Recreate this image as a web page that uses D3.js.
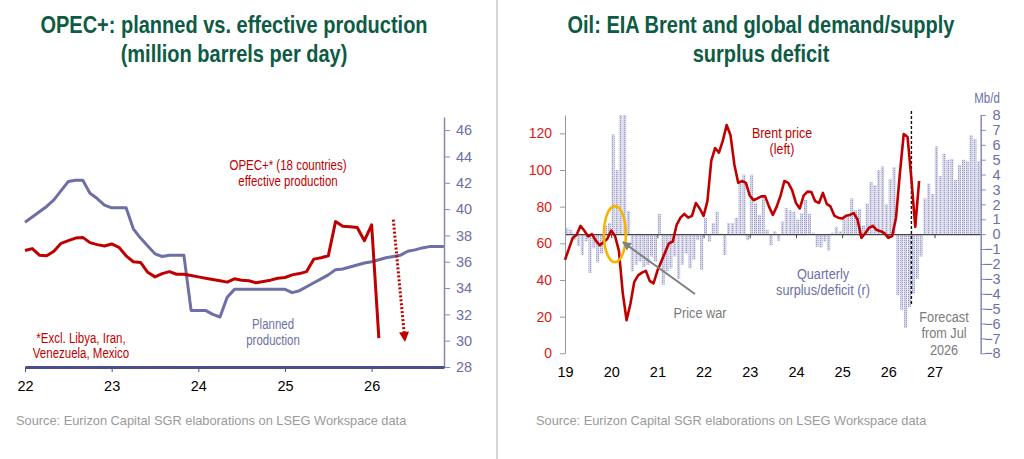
<!DOCTYPE html>
<html>
<head>
<meta charset="utf-8">
<script src="https://cdn.jsdelivr.net/npm/d3@7"></script>
<style>
  body { margin: 0; background: #fff; }
  svg { display: block; font-family: "Liberation Sans", Arial, sans-serif; }
</style>
</head>
<body>
<svg id="chart" width="1024" height="459"></svg>
<script>
// ---- data: OPEC+ (million b/d), monthly from Jan 2022 ----
const opecStart = 2022;
const planned = [
  39.0, 39.4, 39.8, 40.2, 40.7, 41.4, 42.1, 42.2, 42.2, 41.2, 40.8, 40.3,
  40.1, 40.1, 40.1, 38.5, 37.8, 37.2, 36.6, 36.4, 36.5, 36.5, 36.5, 32.3,
  32.3, 32.3, 32.0, 31.8, 33.3, 33.9, 33.9, 33.9, 33.9, 33.9, 33.9, 33.9,
  33.9, 33.65, 33.8, 34.1, 34.4, 34.7, 35.0, 35.4, 35.45, 35.6, 35.75, 35.9,
  36.0, 36.15, 36.3, 36.4, 36.5, 36.8, 36.9, 37.05, 37.15, 37.15, 37.15
];
const effective = [
  36.85, 37.0, 36.5, 36.45, 36.8, 37.4, 37.6, 37.8, 37.85, 37.45, 37.3, 37.2,
  37.35, 37.1, 36.45, 36.0, 35.95, 35.2, 34.85, 35.1, 35.25, 35.05, 35.05, 34.95,
  34.85, 34.75, 34.65, 34.55, 34.45, 34.7, 34.6, 34.55, 34.4, 34.5, 34.6, 34.75,
  34.8, 35.0, 35.1, 35.25, 36.2, 36.3, 36.45, 39.05, 38.7, 38.65, 38.6, 37.6,
  38.8, 30.2
];
const opecYears = [2022, 2023, 2024, 2025, 2026];
const opecTicks = [28, 30, 32, 34, 36, 38, 40, 42, 44, 46];
// expected path of effective production: [year, value] start / end
const opecArrow = [[2026.25, 39.2], [2026.385, 29.9]];

// ---- data: Brent ($/bbl) monthly from Jan 2019, balance (mb/d) monthly Jan 2019 - Dec 2027 ----
const oilStart = 2019;
const brent = [
  51, 57, 63, 64.5, 69.5, 67, 63.8, 65, 61.5, 59, 60.5, 62.5,
  67, 64, 56, 33, 18, 27, 39, 42.5, 44, 45, 39.5, 38.2,
  45, 50, 55, 60, 61, 70, 74, 76, 74, 75, 82, 79,
  75, 83, 105, 112, 109.5, 116, 124.5, 119, 103, 93, 94, 93,
  86, 83.5, 84.5, 85.6, 85.6, 80, 75.5, 80, 86, 94, 93, 89,
  82, 79, 86, 88.2, 88, 83, 82, 87.5, 81.5, 80, 75, 74,
  73.5, 75, 75.5, 76.5, 73, 63, 65.5, 68.5, 69.5, 67.2, 66.6, 65.5,
  63, 64, 74, 98, 119.6, 118, 95, 69, 94
];
const balance = [
  0.4, 0.3, -0.4, -0.8, -1.4, -0.5, -2.6, -0.95, -1.9, -1.3, 0.6, 0.75,
  6.7, 4.3, 11, 10, 1.55, -2.5, -2.05, -1.85, -2.2, -2.05, -1.5, -1.85,
  1.35, -3.4, -2.5, -2.3, -1.5, -3.0, -2.05, -1.3, -2.3, -1.7, -0.4, -2.4,
  1.1, -0.5, 0.75, 1.5, 0.05, -1.4, 0.75, 0.75, 1.1, 3.4, 4.0, -0.4,
  4.0, 2.1, 1.3, 2.4, 0.3, -0.75, 0.2, -0.45, 0.85, 1.75, 1.6, 1.5,
  1.0, 1.4, 2.3, 1.35, 0.1, -0.85, -0.9, -0.5, -1.1, 0.1, 0.5, 0.2,
  1.05, 1.2, 2.4, 1.6, 1.7, 0.6, 2.05, 3.5, 3.3, 4.3, 4.55, 2.0,
  3.7, 4.5, -4.1, -5.1, -6.3, -4.9, -4.0, -3.0, -1.5, 2.4, 3.4, 2.7,
  5.9, 3.9, 5.4, 5.0, 5.05, 3.65, 4.65, 5.0, 4.9, 6.65, 6.4, 4.9
];
const oilYears = [2019, 2020, 2021, 2022, 2023, 2024, 2025, 2026, 2027];
const priceTicks = [0, 20, 40, 60, 80, 100, 120];
const balanceTicks = [-8, -7, -6, -5, -4, -3, -2, -1, 0, 1, 2, 3, 4, 5, 6, 7, 8];
const forecastFrom = 2026.5;
const priceWar = [2020.08, 65];

const GREEN = '#0d5b45', RED = '#c00000', BLUE = '#6d6fa6', AXBLUE = '#8587bb';
const svg = d3.select('#chart');
const monthT = (start, i) => start + i / 12;
const yy = d => String(d).slice(2);

// text helper; "narrow" squeezes Liberation Sans to look like Arial Narrow
function addText(g, x, y, lines, opts = {}) {
  const sx = opts.narrow ? 0.82 : 1;
  const t = g.append('text')
    .attr('transform', `translate(${x},${y}) scale(${sx},1)`)
    .attr('text-anchor', opts.anchor || 'middle')
    .attr('fill', opts.fill || '#000')
    .attr('font-size', opts.size || 15)
    .attr('font-weight', opts.weight || 'normal');
  lines.forEach((s, i) => t.append('tspan').attr('x', 0).attr('dy', i ? (opts.lh || 16) : 0).text(s));
  return t;
}

function styleAxis(g, color, textColor, size) {
  g.select('.domain').attr('stroke', color);
  g.selectAll('.tick line').attr('stroke', color);
  g.selectAll('.tick text').attr('fill', textColor).attr('font-size', size)
    .attr('font-family', '"Liberation Sans", Arial, sans-serif');
}

// divider
svg.append('line').attr('x1', 497).attr('x2', 497).attr('y1', 0).attr('y2', 459)
  .attr('stroke', '#c8c8c8').attr('stroke-width', 1.5);

// ================= left panel =================
const left = svg.append('g');
const xL = d3.scaleLinear().domain([2022, 2026.835]).range([25, 444]);
const yL = d3.scaleLinear().domain([28, 47]).range([367, 117]);

addText(left, 234, 33, ['OPEC+: planned vs. effective production', '(million barrels per day)'],
  { fill: GREEN, size: 24.4, weight: 'bold', narrow: true, lh: 29 });

const gyL = left.append('g').attr('transform', `translate(${xL.range()[1]},0)`)
  .call(d3.axisRight(yL).tickValues(opecTicks).tickSize(6).tickPadding(6).tickSizeOuter(0));
styleAxis(gyL, AXBLUE, BLUE, 14.5);
gyL.select('.domain').attr('stroke-width', 1.5);

const gxL = left.append('g').attr('transform', `translate(0,${yL(28)})`)
  .call(d3.axisBottom(xL).tickValues(opecYears).tickFormat(yy).tickSize(5).tickPadding(9).tickSizeOuter(0));
styleAxis(gxL, '#4b4e8c', '#000', 14.5);
gxL.select('.domain').attr('stroke-width', 3);

const lineL = d3.line().x((d, i) => xL(monthT(opecStart, i))).y(d => yL(d));
left.append('path').datum(planned).attr('d', lineL)
  .attr('fill', 'none').attr('stroke', BLUE).attr('stroke-width', 3).attr('stroke-linejoin', 'round');
left.append('path').datum(effective).attr('d', lineL)
  .attr('fill', 'none').attr('stroke', RED).attr('stroke-width', 3).attr('stroke-linejoin', 'round');

// dotted arrow
{
  const [a, b] = opecArrow.map(([t, v]) => [xL(t), yL(v)]);
  const ang = Math.atan2(b[1] - a[1], b[0] - a[0]);
  const head = 10, hw = 5;
  const base = [b[0] - head * Math.cos(ang), b[1] - head * Math.sin(ang)];
  left.append('line').attr('x1', a[0]).attr('y1', a[1]).attr('x2', base[0]).attr('y2', base[1])
    .attr('stroke', RED).attr('stroke-width', 3).attr('stroke-dasharray', '2,2');
  const px = -Math.sin(ang), py = Math.cos(ang);
  left.append('polygon').attr('fill', RED)
    .attr('points', [b, [base[0] + px * hw, base[1] + py * hw], [base[0] - px * hw, base[1] - py * hw]].join(' '));
}

addText(left, 288, 170, ['OPEC+* (18 countries)', 'effective production'], { fill: RED, size: 14, narrow: true });
addText(left, 81, 343, ['*Excl. Libya, Iran,', 'Venezuela, Mexico'], { fill: RED, size: 14, narrow: true, lh: 15.5 });
addText(left, 273, 329, ['Planned', 'production'], { fill: BLUE, size: 14, narrow: true });
addText(left, 16, 425, ['Source: Eurizon Capital SGR elaborations on LSEG Workspace data'],
  { fill: '#9a9a9a', size: 12.8, anchor: 'start' });

// ================= right panel =================
const right = svg.append('g');
const xR = d3.scaleLinear().domain([2019, 2028]).range([565, 980.7]);
const yP = d3.scaleLinear().domain([0, 130]).range([353.3, 115]);
const yB = d3.scaleLinear().domain([-8, 8]).range([353.3, 115]);

addText(right, 761, 33, ['Oil: EIA Brent and global demand/supply', 'surplus deficit'],
  { fill: GREEN, size: 24.4, weight: 'bold', narrow: true, lh: 29 });

const defs = svg.append('defs');
const pat = defs.append('pattern').attr('id', 'dots').attr('width', 2).attr('height', 2)
  .attr('patternUnits', 'userSpaceOnUse');
pat.append('rect').attr('width', 2).attr('height', 2).attr('fill', '#d6d6ea');
pat.append('rect').attr('width', 1).attr('height', 1).attr('fill', '#9a9bc6');
defs.append('clipPath').attr('id', 'plotR').append('rect')
  .attr('x', xR.range()[0]).attr('y', yB.range()[1])
  .attr('width', xR.range()[1] - xR.range()[0]).attr('height', yB.range()[0] - yB.range()[1]);
defs.append('marker').attr('id', 'greyHead').attr('viewBox', '0 0 10 10').attr('refX', 9).attr('refY', 5)
  .attr('markerWidth', 4.5).attr('markerHeight', 4.5).attr('orient', 'auto')
  .append('path').attr('d', 'M0,0L10,5L0,10z').attr('fill', '#808080');

const mw = xR(oilStart + 1 / 12) - xR(oilStart);
right.append('g').attr('clip-path', 'url(#plotR)')
  .selectAll('rect').data(balance).join('rect')
  .attr('x', (d, i) => xR(monthT(oilStart, i)) + 0.35)
  .attr('width', mw - 0.7)
  .attr('y', d => yB(Math.max(0, d)))
  .attr('height', d => Math.abs(yB(d) - yB(0)))
  .attr('fill', 'url(#dots)');

// zero line with year ticks
const gz = right.append('g').attr('transform', `translate(0,${yB(0)})`)
  .call(d3.axisBottom(xR).tickValues(oilYears).tickFormat('').tickSize(4).tickSizeOuter(0));
styleAxis(gz, '#444', '#000', 12);
gz.select('.domain').attr('stroke-width', 1.3);

const gxR = right.append('g').attr('transform', `translate(0,${yP(0)})`)
  .call(d3.axisBottom(xR).tickValues(oilYears).tickFormat(yy).tickSize(0).tickPadding(13.5));
gxR.select('.domain').remove();
styleAxis(gxR, '#000', '#000', 14.5);

const gyP = right.append('g').attr('transform', `translate(${xR.range()[0]},0)`)
  .call(d3.axisLeft(yP).tickValues(priceTicks).tickSize(5).tickPadding(8).tickSizeOuter(0));
styleAxis(gyP, '#999', '#e01818', 14);

const gyB = right.append('g').attr('transform', `translate(${xR.range()[1]},0)`)
  .call(d3.axisRight(yB).tickValues(balanceTicks).tickSize(5).tickPadding(4).tickSizeOuter(0));
styleAxis(gyB, AXBLUE, BLUE, 14.5);
gyB.selectAll('.tick text').attr('text-anchor', 'end').attr('x', 20);
gyB.select('.domain').attr('stroke-width', 1.5);
addText(right, 987, 103, ['Mb/d'], { fill: BLUE, size: 14, narrow: true });

// forecast divider
right.append('line')
  .attr('x1', xR(forecastFrom)).attr('x2', xR(forecastFrom))
  .attr('y1', 111).attr('y2', 306)
  .attr('stroke', '#111').attr('stroke-width', 1.4).attr('stroke-dasharray', '3,2');

// Brent line
right.append('path').datum(brent)
  .attr('d', d3.line().x((d, i) => xR(monthT(oilStart, i))).y(d => yP(d)))
  .attr('fill', 'none').attr('stroke', RED).attr('stroke-width', 2.6).attr('stroke-linejoin', 'round');

// price war annotation
right.append('ellipse')
  .attr('cx', xR(priceWar[0])).attr('cy', yP(priceWar[1]))
  .attr('rx', 11).attr('ry', 28)
  .attr('fill', 'none').attr('stroke', '#f6b400').attr('stroke-width', 2.6);
right.append('line').attr('x1', 695).attr('y1', 294)
  .attr('x2', xR(priceWar[0]) + 8).attr('y2', yP(priceWar[1]) + 8)
  .attr('stroke', '#808080').attr('stroke-width', 2).attr('marker-end', 'url(#greyHead)');
addText(right, 700, 318, ['Price war'], { fill: '#7a7a7a', size: 15.5, narrow: true });

addText(right, 782, 138, ['Brent price', '(left)'], { fill: RED, size: 15.2, narrow: true, lh: 16 });
addText(right, 823, 279, ['Quarterly', 'surplus/deficit (r)'], { fill: BLUE, size: 15.5, narrow: true, lh: 16.5 });
addText(right, 944, 322, ['Forecast', 'from Jul', '2026'], { fill: '#7a7a7a', size: 15.5, narrow: true, lh: 16.3 });
addText(right, 536, 425, ['Source: Eurizon Capital SGR elaborations on LSEG Workspace data'],
  { fill: '#9a9a9a', size: 12.8, anchor: 'start' });
</script>
</body>
</html>
